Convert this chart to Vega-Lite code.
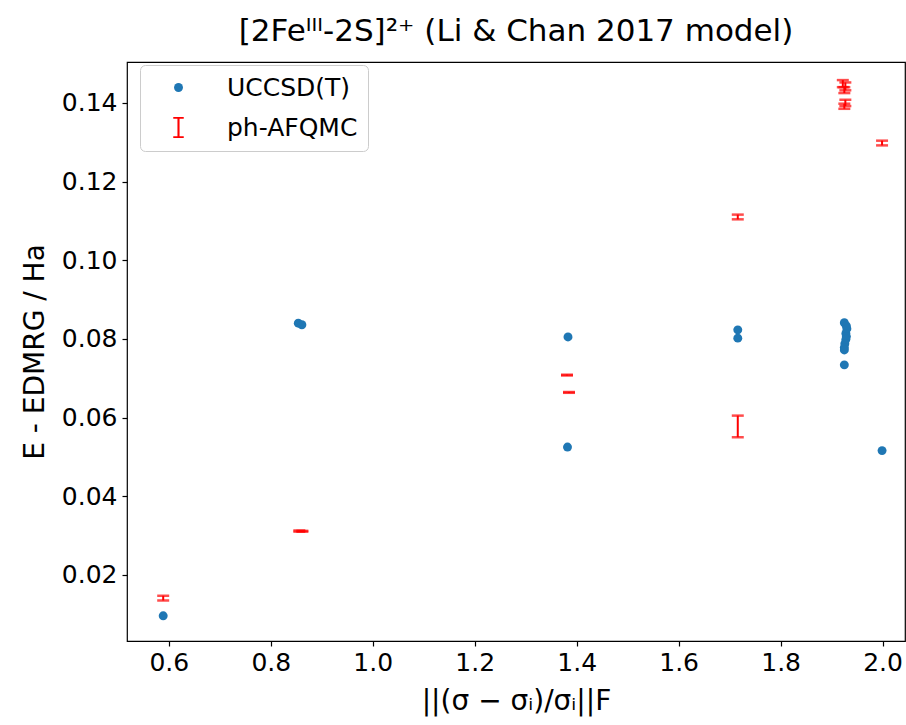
{
  "$schema": "https://vega.github.io/schema/vega-lite/v6.json",
  "autosize": {"type": "none"},
  "width": 778,
  "height": 579,
  "padding": {"left": 127, "top": 62, "right": 1, "bottom": 84},
  "background": "white",
  "config": {
    "font": "DejaVu Sans",
    "view": {"stroke": "black", "strokeWidth": 1.2},
    "axis": {
      "domain": false,
      "grid": false,
      "ticks": true,
      "tickColor": "black",
      "tickSize": 5,
      "tickWidth": 1.2,
      "labelColor": "black",
      "labelFontSize": 25,
      "labelFont": "DejaVu Sans",
      "titleFont": "DejaVu Sans",
      "titleFontSize": 28,
      "titleFontWeight": "normal",
      "titleColor": "black"
    }
  },
  "title": {
    "text": "[2Feᴵᴵᴵ-2S]²⁺  (Li & Chan 2017 model)",
    "fontSize": 31,
    "fontWeight": "normal",
    "font": "DejaVu Sans",
    "color": "black",
    "offset": 14,
    "anchor": "middle"
  },
  "datasets": {
    "ccsd": [
      {"x": 0.589, "y": 0.0096, "series": "UCCSD(T)"},
      {"x": 0.854, "y": 0.0840, "series": "UCCSD(T)"},
      {"x": 0.861, "y": 0.0836, "series": "UCCSD(T)"},
      {"x": 1.383, "y": 0.0805, "series": "UCCSD(T)"},
      {"x": 1.382, "y": 0.0525, "series": "UCCSD(T)"},
      {"x": 1.716, "y": 0.0823, "series": "UCCSD(T)"},
      {"x": 1.716, "y": 0.0802, "series": "UCCSD(T)"},
      {"x": 1.925, "y": 0.0841, "series": "UCCSD(T)"},
      {"x": 1.929, "y": 0.0833, "series": "UCCSD(T)"},
      {"x": 1.930, "y": 0.0826, "series": "UCCSD(T)"},
      {"x": 1.928, "y": 0.0814, "series": "UCCSD(T)"},
      {"x": 1.929, "y": 0.0806, "series": "UCCSD(T)"},
      {"x": 1.928, "y": 0.0799, "series": "UCCSD(T)"},
      {"x": 1.926, "y": 0.0788, "series": "UCCSD(T)"},
      {"x": 1.925, "y": 0.0778, "series": "UCCSD(T)"},
      {"x": 1.925, "y": 0.0772, "series": "UCCSD(T)"},
      {"x": 1.925, "y": 0.0734, "series": "UCCSD(T)"},
      {"x": 1.999, "y": 0.0516, "series": "UCCSD(T)"}
    ],
    "afqmc": [
      {"x": 0.589, "lo": 0.0135, "hi": 0.0147},
      {"x": 0.856, "lo": 0.0310, "hi": 0.0313},
      {"x": 0.862, "lo": 0.0310, "hi": 0.0312},
      {"x": 1.381, "lo": 0.0707, "hi": 0.0709},
      {"x": 1.385, "lo": 0.0663, "hi": 0.0665},
      {"x": 1.716, "lo": 0.0550, "hi": 0.0605},
      {"x": 1.716, "lo": 0.1104, "hi": 0.1116},
      {"x": 1.922, "lo": 0.1440, "hi": 0.1458},
      {"x": 1.927, "lo": 0.1432, "hi": 0.1452},
      {"x": 1.925, "lo": 0.1425, "hi": 0.1440},
      {"x": 1.927, "lo": 0.1392, "hi": 0.1408},
      {"x": 1.925, "lo": 0.1385, "hi": 0.1398},
      {"x": 1.999, "lo": 0.1292, "hi": 0.1304}
    ]
  },
  "layer": [
    {
      "data": {"name": "afqmc"},
      "mark": {"type": "errorbar", "color": "red", "thickness": 2, "ticks": {"size": 12, "thickness": 2.5, "color": "red"}},
      "encoding": {
        "x": {"field": "x", "type": "quantitative", "title": "||(σ − σᵢ)/σᵢ||F"},
        "y": {"field": "lo", "type": "quantitative", "title": "E - EDMRG / Ha"},
        "y2": {"field": "hi"}
      }
    },
    {
      "data": {"name": "ccsd"},
      "mark": {"type": "point", "filled": true, "opacity": 1},
      "encoding": {
        "x": {
          "field": "x", "type": "quantitative",
          "scale": {"domain": [0.518, 2.044], "nice": false, "zero": false},
          "axis": {"values": [0.6, 0.8, 1.0, 1.2, 1.4, 1.6, 1.8, 2.0], "format": ".1f", "labelPadding": 4, "titlePadding": 12},
          "title": "||(σ − σᵢ)/σᵢ||F"
        },
        "y": {
          "field": "y", "type": "quantitative",
          "scale": {"domain": [0.0032, 0.1504], "nice": false, "zero": false},
          "axis": {"values": [0.02, 0.04, 0.06, 0.08, 0.10, 0.12, 0.14], "format": ".2f", "labelPadding": 5, "titlePadding": 12},
          "title": "E - EDMRG / Ha"
        },
        "color": {
          "field": "series", "type": "nominal", "title": null,
          "scale": {"domain": ["UCCSD(T)", "ph-AFQMC"], "range": ["#1f77b4", "red"]},
          "legend": {
            "orient": "none",
            "legendX": 13,
            "legendY": 3,
            "padding": 10,
            "fillColor": "white",
            "strokeColor": "#cccccc",
            "cornerRadius": 5,
            "labelFontSize": 25,
            "labelFont": "DejaVu Sans",
            "labelColor": "black",
            "labelOffset": 36,
            "symbolOffset": 16,
            "rowPadding": 14,
            "symbolStrokeWidth": 0,
            "symbolOpacity": 1
          }
        },
        "shape": {
          "field": "series", "type": "nominal", "title": null,
          "scale": {"domain": ["UCCSD(T)", "ph-AFQMC"], "range": ["circle", "M-0.5,-1H0.5V-0.84H0.1V0.84H0.5V1H-0.5V0.84H-0.1V-0.84H-0.5Z"]}
        },
        "size": {
          "field": "series", "type": "nominal", "title": null,
          "scale": {"domain": ["UCCSD(T)", "ph-AFQMC"], "range": [80, 440]}
        }
      }
    }
  ]
}
